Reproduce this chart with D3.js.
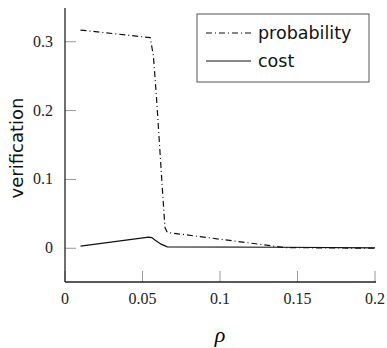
<!DOCTYPE html>
<html>
<head>
<meta charset="utf-8">
<script src="https://cdn.jsdelivr.net/npm/d3@7"></script>
<style>
    body { margin: 0; background: #fff; }
    .tick-label { font-family: "Liberation Serif", serif; font-size: 16px; fill: #222; }
    .axis-title { font-family: "DejaVu Sans", sans-serif; font-size: 18px; fill: #111; }
    .legend-text { font-family: "DejaVu Sans", sans-serif; font-size: 17.5px; fill: #111; }
</style>
</head>
<body>
<div id="chart"></div>
<script>
// data
let probability = [
    [0.01, 0.317], [0.055, 0.306], [0.057, 0.28], [0.059, 0.22], [0.061, 0.15],
    [0.063, 0.08], [0.0645, 0.03], [0.066, 0.023], [0.142, 0.001], [0.2, 0.0]
];
let cost = [
    [0.01, 0.003], [0.054, 0.0163], [0.056, 0.0155], [0.058, 0.012], [0.062, 0.006],
    [0.066, 0.002], [0.14, 0.0015], [0.2, 0.0005]
];
let xTicks = [0, 0.05, 0.1, 0.15, 0.2];
let xTickLabels = ["0", "0.05", "0.1", "0.15", "0.2"];
let yTicks = [0, 0.1, 0.2, 0.3];
let yTickLabels = ["0", "0.1", "0.2", "0.3"];
let seriesNames = ["probability", "cost"];

let margin = {top: 8, right: 12, bottom: 66, left: 65};
let width = 387 - margin.left - margin.right;
let height = 348 - margin.top - margin.bottom;

let svg = d3.select("#chart").append("svg")
    .attr("width", 387)
    .attr("height", 348)
    .append("g")
    .attr("transform", `translate(${margin.left},${margin.top})`);

let x = d3.scaleLinear().domain([0, 0.2]).range([0, 310]);
let y = d3.scaleLinear().domain([-0.049, 0.349]).range([height, 0]);

// ticks, pointing inward
let tickLen = 11;
svg.selectAll(".xtick").data(xTicks).enter().append("line")
    .attr("x1", d => x(d)).attr("x2", d => x(d))
    .attr("y1", height).attr("y2", height - tickLen)
    .attr("stroke", "#999").attr("stroke-width", 1);
svg.selectAll(".ytick").data(yTicks).enter().append("line")
    .attr("x1", 0).attr("x2", tickLen)
    .attr("y1", d => y(d)).attr("y2", d => y(d))
    .attr("stroke", "#999").attr("stroke-width", 1);

svg.selectAll(".xlab").data(xTicks).enter().append("text")
    .attr("class", "tick-label")
    .attr("x", d => x(d)).attr("y", height + 22)
    .attr("text-anchor", "middle")
    .text((d, i) => xTickLabels[i]);
svg.selectAll(".ylab").data(yTicks).enter().append("text")
    .attr("class", "tick-label")
    .attr("x", -12).attr("y", d => y(d) + 5)
    .attr("text-anchor", "end")
    .text((d, i) => yTickLabels[i]);

// axis lines
svg.append("line").attr("x1", 0).attr("x2", 0).attr("y1", 0).attr("y2", height)
    .attr("stroke", "#222").attr("stroke-width", 1.3);
svg.append("line").attr("x1", 0).attr("x2", 311).attr("y1", height).attr("y2", height)
    .attr("stroke", "#222").attr("stroke-width", 1.3);

// lines
let line = d3.line().x(d => x(d[0])).y(d => y(d[1]));
let dashes = ["6,3,1,3", null];
[probability, cost].forEach((s, i) => {
    svg.append("path")
        .datum(s)
        .attr("d", line)
        .attr("fill", "none")
        .attr("stroke", "#111")
        .attr("stroke-width", 1.2)
        .attr("stroke-dasharray", dashes[i]);
});

// axis titles
svg.append("text")
    .attr("class", "axis-title")
    .attr("transform", `translate(${-42},${height / 2 + 3})rotate(-90)`)
    .attr("text-anchor", "middle")
    .text("verification");
svg.append("text")
    .attr("x", x(0.1)).attr("y", height + 60)
    .attr("text-anchor", "middle")
    .style("font-family", "Liberation Serif, serif")
    .style("font-style", "italic")
    .style("font-size", "22px")
    .text("ρ");

// legend
let lg = svg.append("g").attr("transform", `translate(${197 - margin.left},${14 - margin.top})`);
lg.append("rect").attr("width", 172).attr("height", 68)
    .attr("fill", "#fff").attr("stroke", "#555").attr("stroke-width", 1);
seriesNames.forEach((n, i) => {
    let yy = 19 + i * 28;
    lg.append("line").attr("x1", 9).attr("x2", 54).attr("y1", yy).attr("y2", yy)
        .attr("stroke", "#111").attr("stroke-width", 1.2)
        .attr("stroke-dasharray", dashes[i]);
    lg.append("text").attr("class", "legend-text")
        .attr("x", 61).attr("y", yy + 6)
        .text(n);
});
</script>
</body>
</html>
